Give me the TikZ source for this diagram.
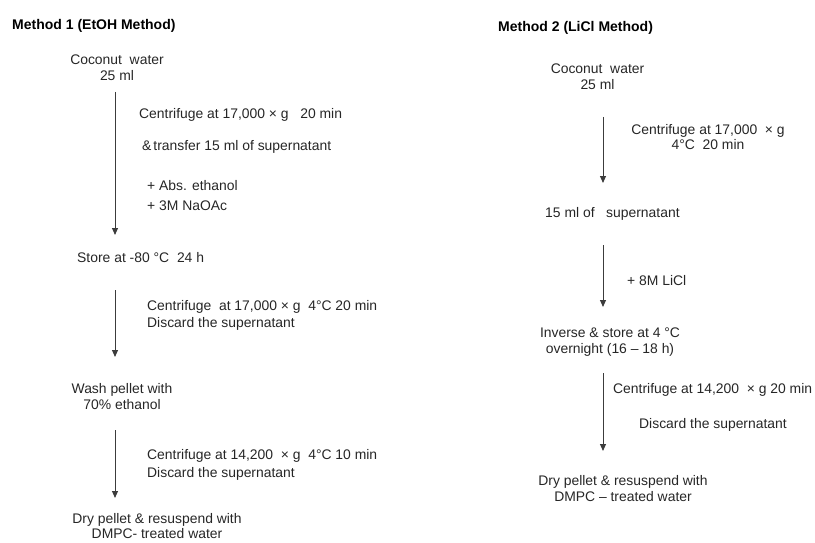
\documentclass[tikz,border=0pt]{standalone}
\usepackage{fontspec}
\setmainfont{Liberation Sans}
\usetikzlibrary{arrows.meta}
\definecolor{txt}{RGB}{38,38,38}
\definecolor{arr}{RGB}{60,60,60}
\tikzset{
  lbl/.style={anchor=base west, inner sep=0pt, text=txt, font=\fontsize{13.9}{16.5}\selectfont},
  stepbox/.style={anchor=center, inner sep=0pt, align=center, text=txt, font=\fontsize{13.9}{16.5}\selectfont},
  ttl/.style={anchor=base west, inner sep=0pt, text=black, font=\bfseries\fontsize{14}{16}\selectfont},
  flow/.style={draw=arr, line width=1pt, -{Triangle[length=7pt,width=6pt]}}
}
\begin{document}
\begin{tikzpicture}[x=1pt,y=-1pt]
\useasboundingbox (0,0) rectangle (815,543);
% ---------- Method 1 ----------
\node[ttl] (t1) at (12,29.5) {Method 1 (EtOH Method)};
\node[stepbox] (c1) at (117,67.5) {Coconut~ water\\25 ml};
\node[lbl] (cf1) at (139,118) {Centrifuge at 17,000 × g~~ 20 min};
\node[lbl] (tr1) at (142,150) {\&\kern2pt transfer 15 ml of supernatant};
\node[lbl] (ab1) at (147,190) {+ Abs. ethanol};
\node[lbl] (na1) at (147,210) {+ 3M NaOAc};
\node[lbl] (s1) at (77,262) {Store at -80 °C~ 24 h};
\node[lbl] (cf2) at (147,310) {Centrifuge~ at 17,000 × g~ 4°C 20 min};
\node[lbl] (d2) at (147,327.5) {Discard the supernatant};
\node[stepbox] (w1) at (122,396.5) {Wash pellet with\\70\% ethanol};
\node[lbl] (cf3) at (147,459) {Centrifuge at 14,200~ × g~ 4°C 10 min};
\node[lbl] (d3) at (147,477) {Discard the supernatant};
\node[stepbox, font=\fontsize{13.9}{15}\selectfont] (dr1) at (157,526.5) {Dry pellet \& resuspend with\\DMPC- treated water};
\coordinate (a1s) at (115,92);   \coordinate (a1e) at (115,235);
\coordinate (a2s) at (115,290);  \coordinate (a2e) at (115,357);
\coordinate (a3s) at (115,430);  \coordinate (a3e) at (115,498);
\draw[flow] (a1s) -- (a1e);
\draw[flow] (a2s) -- (a2e);
\draw[flow] (a3s) -- (a3e);
% ---------- Method 2 ----------
\node[ttl] (t2) at (498,32) {Method 2 (LiCl Method)};
\node[stepbox] (c2) at (597.5,76.5) {Coconut~ water\\25 ml};
\node[stepbox, font=\fontsize{13.9}{15}\selectfont] (cf4) at (708,137.5) {Centrifuge at 17,000~ × g\\4°C~ 20 min};
\node[lbl] (sp2) at (545,217) {15 ml of~~ supernatant};
\node[lbl] (li2) at (627,285) {+ 8M LiCl};
\node[stepbox] (in2) at (610,342) {Inverse \& store at 4 °C\\overnight (16 – 18 h)};
\node[lbl] (cf5) at (613,393.5) {Centrifuge at 14,200~ × g 20 min};
\node[lbl] (d5) at (639,428.5) {Discard the supernatant};
\node[stepbox] (dr2) at (623,488.5) {Dry pellet \& resuspend with\\DMPC – treated water};
\coordinate (b1s) at (603,117);  \coordinate (b1e) at (603,183);
\coordinate (b2s) at (603,245);  \coordinate (b2e) at (603,307);
\coordinate (b3s) at (603,373);  \coordinate (b3e) at (603,451);
\draw[flow] (b1s) -- (b1e);
\draw[flow] (b2s) -- (b2e);
\draw[flow] (b3s) -- (b3e);
\end{tikzpicture}
\end{document}
